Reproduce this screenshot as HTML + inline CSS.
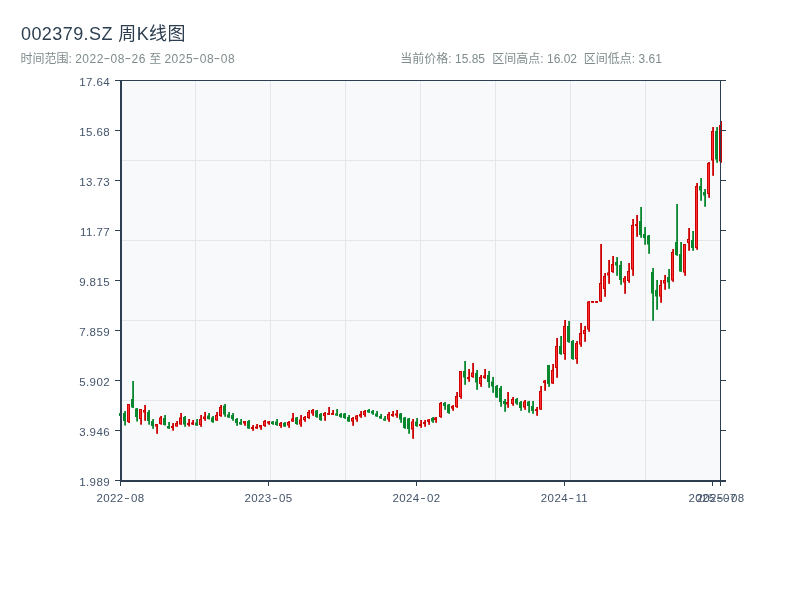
<!DOCTYPE html>
<html lang="zh"><head><meta charset="utf-8"><title>002379.SZ 周K线图</title>
<style>
html,body{margin:0;padding:0;background:#fff;}
body{width:800px;height:600px;position:relative;overflow:hidden;font-family:"Liberation Sans","Noto Sans CJK SC",sans-serif;}
.t{position:absolute;left:21px;top:22px;font-size:18px;line-height:24px;color:#2c3e50;white-space:nowrap;letter-spacing:0.42px;}
.s{position:absolute;top:51px;font-size:12px;line-height:16px;color:#7f8c8d;white-space:nowrap;}
.d{letter-spacing:0.48px;}
.h{display:inline-block;transform:translateY(-1px) scaleX(1.7);margin:0 1.5px 0 1.2px;letter-spacing:0;}
svg{position:absolute;left:0;top:0;}
.al{font-family:"Liberation Sans",sans-serif;font-size:11.5px;fill:#44546a;letter-spacing:0.4px;}
</style></head><body>
<div class="t">002379.SZ 周K线图</div>
<div class="s" style="left:20.5px">时间范围: <span class="d">2022<span class="h">-</span>08<span class="h">-</span>26</span> 至 <span class="d">2025<span class="h">-</span>08<span class="h">-</span>08</span></div>
<div class="s" style="left:400.3px">当前价格: 15.85</div>
<div class="s" style="left:492.3px">区间高点: 16.02</div>
<div class="s" style="left:583.8px">区间低点: 3.61</div>
<svg width="800" height="600" viewBox="0 0 800 600">
<rect x="120" y="80" width="601" height="401" fill="#f8f9fb"/>
<rect x="195" y="81" width="1" height="399" fill="#e3e6ea"/>
<rect x="270" y="81" width="1" height="399" fill="#e3e6ea"/>
<rect x="345" y="81" width="1" height="399" fill="#e3e6ea"/>
<rect x="420" y="81" width="1" height="399" fill="#e3e6ea"/>
<rect x="495" y="81" width="1" height="399" fill="#e3e6ea"/>
<rect x="570" y="81" width="1" height="399" fill="#e3e6ea"/>
<rect x="645" y="81" width="1" height="399" fill="#e3e6ea"/>
<rect x="122" y="160" width="598" height="1" fill="#e3e6ea"/>
<rect x="122" y="240" width="598" height="1" fill="#e3e6ea"/>
<rect x="122" y="320" width="598" height="1" fill="#e3e6ea"/>
<rect x="122" y="400" width="598" height="1" fill="#e3e6ea"/>
<rect x="120.2" y="413.0" width="1.8" height="3.0" fill="#08872e"/>
<rect x="119.0" y="413.0" width="3" height="3.0" fill="#08872e"/>
<rect x="124.2" y="411.0" width="1.8" height="14.5" fill="#08872e"/>
<rect x="123.0" y="413.0" width="3" height="8.0" fill="#08872e"/>
<rect x="128.2" y="404.0" width="1.8" height="19.0" fill="#cc0000"/>
<rect x="127.0" y="404.0" width="3" height="18.0" fill="#cc0000"/>
<rect x="128.0" y="405.0" width="1" height="16.0" fill="#ff3333"/>
<rect x="132.2" y="381.0" width="1.8" height="27.0" fill="#08872e"/>
<rect x="131.0" y="399.0" width="3" height="8.5" fill="#08872e"/>
<rect x="136.2" y="408.0" width="1.8" height="13.5" fill="#08872e"/>
<rect x="135.0" y="408.5" width="3" height="8.5" fill="#08872e"/>
<rect x="140.2" y="409.0" width="1.8" height="15.7" fill="#cc0000"/>
<rect x="139.0" y="409.0" width="3" height="10.0" fill="#cc0000"/>
<rect x="140.0" y="410.0" width="1" height="8.0" fill="#ff3333"/>
<rect x="144.2" y="405.0" width="1.8" height="15.8" fill="#cc0000"/>
<rect x="143.0" y="410.0" width="3" height="2.5" fill="#cc0000"/>
<rect x="144.0" y="411.0" width="1" height="0.5" fill="#ff3333"/>
<rect x="148.2" y="410.0" width="1.8" height="14.7" fill="#08872e"/>
<rect x="147.0" y="412.0" width="3" height="9.0" fill="#08872e"/>
<rect x="152.2" y="419.0" width="1.8" height="9.8" fill="#08872e"/>
<rect x="151.0" y="421.0" width="3" height="5.0" fill="#08872e"/>
<rect x="156.2" y="424.0" width="1.8" height="9.8" fill="#cc0000"/>
<rect x="155.0" y="424.0" width="3" height="2.5" fill="#cc0000"/>
<rect x="156.0" y="425.0" width="1" height="0.5" fill="#ff3333"/>
<rect x="160.2" y="416.0" width="1.8" height="8.7" fill="#cc0000"/>
<rect x="159.0" y="417.5" width="3" height="6.5" fill="#cc0000"/>
<rect x="160.0" y="418.5" width="1" height="4.5" fill="#ff3333"/>
<rect x="164.2" y="415.0" width="1.8" height="10.5" fill="#08872e"/>
<rect x="163.0" y="418.0" width="3" height="7.0" fill="#08872e"/>
<rect x="168.2" y="422.0" width="1.8" height="6.8" fill="#08872e"/>
<rect x="167.0" y="426.0" width="3" height="2.5" fill="#08872e"/>
<rect x="172.2" y="423.0" width="1.8" height="7.7" fill="#cc0000"/>
<rect x="171.0" y="426.0" width="3" height="2.0" fill="#cc0000"/>
<rect x="176.2" y="421.0" width="1.8" height="5.5" fill="#cc0000"/>
<rect x="175.0" y="423.0" width="3" height="3.5" fill="#cc0000"/>
<rect x="176.0" y="424.0" width="1" height="1.5" fill="#ff3333"/>
<rect x="180.2" y="413.0" width="1.8" height="11.7" fill="#cc0000"/>
<rect x="179.0" y="417.5" width="3" height="7.0" fill="#cc0000"/>
<rect x="180.0" y="418.5" width="1" height="5.0" fill="#ff3333"/>
<rect x="184.2" y="416.0" width="1.8" height="10.8" fill="#08872e"/>
<rect x="183.0" y="417.0" width="3" height="7.5" fill="#08872e"/>
<rect x="188.2" y="419.0" width="1.8" height="7.5" fill="#cc0000"/>
<rect x="187.0" y="423.0" width="3" height="2.0" fill="#cc0000"/>
<rect x="192.2" y="420.0" width="1.8" height="5.0" fill="#cc0000"/>
<rect x="191.0" y="422.5" width="3" height="2.0" fill="#cc0000"/>
<rect x="196.2" y="419.0" width="1.8" height="6.8" fill="#08872e"/>
<rect x="195.0" y="422.5" width="3" height="3.0" fill="#08872e"/>
<rect x="200.2" y="415.0" width="1.8" height="11.8" fill="#cc0000"/>
<rect x="199.0" y="419.0" width="3" height="6.0" fill="#cc0000"/>
<rect x="200.0" y="420.0" width="1" height="4.0" fill="#ff3333"/>
<rect x="204.2" y="412.0" width="1.8" height="8.8" fill="#cc0000"/>
<rect x="203.0" y="416.5" width="3" height="2.5" fill="#cc0000"/>
<rect x="204.0" y="417.5" width="1" height="0.5" fill="#ff3333"/>
<rect x="208.2" y="413.0" width="1.8" height="6.5" fill="#08872e"/>
<rect x="207.0" y="415.5" width="3" height="3.5" fill="#08872e"/>
<rect x="212.2" y="416.0" width="1.8" height="6.8" fill="#08872e"/>
<rect x="211.0" y="417.5" width="3" height="4.5" fill="#08872e"/>
<rect x="216.2" y="412.0" width="1.8" height="8.8" fill="#cc0000"/>
<rect x="215.0" y="415.0" width="3" height="5.5" fill="#cc0000"/>
<rect x="216.0" y="416.0" width="1" height="3.5" fill="#ff3333"/>
<rect x="220.2" y="405.0" width="1.8" height="11.8" fill="#cc0000"/>
<rect x="219.0" y="407.0" width="3" height="9.0" fill="#cc0000"/>
<rect x="220.0" y="408.0" width="1" height="7.0" fill="#ff3333"/>
<rect x="224.2" y="404.0" width="1.8" height="12.8" fill="#08872e"/>
<rect x="223.0" y="405.5" width="3" height="9.0" fill="#08872e"/>
<rect x="228.2" y="412.0" width="1.8" height="5.8" fill="#08872e"/>
<rect x="227.0" y="414.5" width="3" height="3.0" fill="#08872e"/>
<rect x="232.2" y="413.0" width="1.8" height="7.8" fill="#08872e"/>
<rect x="231.0" y="415.0" width="3" height="4.0" fill="#08872e"/>
<rect x="236.2" y="418.0" width="1.8" height="7.8" fill="#08872e"/>
<rect x="235.0" y="419.0" width="3" height="4.0" fill="#08872e"/>
<rect x="240.2" y="419.0" width="1.8" height="5.8" fill="#08872e"/>
<rect x="239.0" y="422.0" width="3" height="2.5" fill="#08872e"/>
<rect x="244.2" y="421.0" width="1.8" height="4.8" fill="#cc0000"/>
<rect x="243.0" y="421.0" width="3" height="2.5" fill="#cc0000"/>
<rect x="244.0" y="422.0" width="1" height="0.5" fill="#ff3333"/>
<rect x="248.2" y="420.0" width="1.8" height="8.8" fill="#08872e"/>
<rect x="247.0" y="421.0" width="3" height="7.5" fill="#08872e"/>
<rect x="252.2" y="425.0" width="1.8" height="5.8" fill="#cc0000"/>
<rect x="251.0" y="427.0" width="3" height="2.0" fill="#cc0000"/>
<rect x="256.2" y="424.0" width="1.8" height="4.8" fill="#cc0000"/>
<rect x="255.0" y="426.5" width="3" height="2.0" fill="#cc0000"/>
<rect x="260.2" y="425.0" width="1.8" height="4.8" fill="#cc0000"/>
<rect x="259.0" y="425.0" width="3" height="2.5" fill="#cc0000"/>
<rect x="260.0" y="426.0" width="1" height="0.5" fill="#ff3333"/>
<rect x="264.2" y="420.0" width="1.8" height="6.8" fill="#cc0000"/>
<rect x="263.0" y="421.0" width="3" height="5.0" fill="#cc0000"/>
<rect x="264.0" y="422.0" width="1" height="3.0" fill="#ff3333"/>
<rect x="268.2" y="421.0" width="1.8" height="3.8" fill="#cc0000"/>
<rect x="267.0" y="421.5" width="3" height="2.0" fill="#cc0000"/>
<rect x="272.2" y="421.0" width="1.8" height="3.8" fill="#08872e"/>
<rect x="271.0" y="421.5" width="3" height="2.5" fill="#08872e"/>
<rect x="276.2" y="419.0" width="1.8" height="6.8" fill="#08872e"/>
<rect x="275.0" y="421.5" width="3" height="3.5" fill="#08872e"/>
<rect x="280.2" y="422.0" width="1.8" height="5.8" fill="#cc0000"/>
<rect x="279.0" y="423.0" width="3" height="3.0" fill="#cc0000"/>
<rect x="280.0" y="424.0" width="1" height="1.0" fill="#ff3333"/>
<rect x="284.2" y="422.0" width="1.8" height="4.8" fill="#08872e"/>
<rect x="283.0" y="423.0" width="3" height="3.5" fill="#08872e"/>
<rect x="288.2" y="421.0" width="1.8" height="6.8" fill="#cc0000"/>
<rect x="287.0" y="422.0" width="3" height="3.5" fill="#cc0000"/>
<rect x="288.0" y="423.0" width="1" height="1.5" fill="#ff3333"/>
<rect x="292.2" y="413.0" width="1.8" height="8.8" fill="#cc0000"/>
<rect x="291.0" y="418.5" width="3" height="3.0" fill="#cc0000"/>
<rect x="292.0" y="419.5" width="1" height="1.0" fill="#ff3333"/>
<rect x="296.2" y="417.0" width="1.8" height="7.8" fill="#08872e"/>
<rect x="295.0" y="417.5" width="3" height="6.5" fill="#08872e"/>
<rect x="300.2" y="415.0" width="1.8" height="11.8" fill="#cc0000"/>
<rect x="299.0" y="419.5" width="3" height="5.0" fill="#cc0000"/>
<rect x="300.0" y="420.5" width="1" height="3.0" fill="#ff3333"/>
<rect x="304.2" y="416.0" width="1.8" height="5.8" fill="#cc0000"/>
<rect x="303.0" y="417.0" width="3" height="3.0" fill="#cc0000"/>
<rect x="304.0" y="418.0" width="1" height="1.0" fill="#ff3333"/>
<rect x="308.2" y="410.0" width="1.8" height="8.8" fill="#cc0000"/>
<rect x="307.0" y="412.0" width="3" height="6.0" fill="#cc0000"/>
<rect x="308.0" y="413.0" width="1" height="4.0" fill="#ff3333"/>
<rect x="312.2" y="409.0" width="1.8" height="6.8" fill="#cc0000"/>
<rect x="311.0" y="410.0" width="3" height="3.5" fill="#cc0000"/>
<rect x="312.0" y="411.0" width="1" height="1.5" fill="#ff3333"/>
<rect x="316.2" y="410.0" width="1.8" height="7.8" fill="#08872e"/>
<rect x="315.0" y="410.5" width="3" height="6.5" fill="#08872e"/>
<rect x="320.2" y="413.0" width="1.8" height="7.8" fill="#08872e"/>
<rect x="319.0" y="414.0" width="3" height="6.0" fill="#08872e"/>
<rect x="324.2" y="412.0" width="1.8" height="8.8" fill="#cc0000"/>
<rect x="323.0" y="413.0" width="3" height="3.0" fill="#cc0000"/>
<rect x="324.0" y="414.0" width="1" height="1.0" fill="#ff3333"/>
<rect x="328.2" y="407.0" width="1.8" height="7.8" fill="#cc0000"/>
<rect x="327.0" y="413.0" width="3" height="1.8" fill="#cc0000"/>
<rect x="332.2" y="410.0" width="1.8" height="4.8" fill="#cc0000"/>
<rect x="331.0" y="413.0" width="3" height="1.8" fill="#cc0000"/>
<rect x="336.2" y="409.0" width="1.8" height="6.8" fill="#08872e"/>
<rect x="335.0" y="413.5" width="3" height="2.0" fill="#08872e"/>
<rect x="340.2" y="413.0" width="1.8" height="4.8" fill="#08872e"/>
<rect x="339.0" y="414.0" width="3" height="3.0" fill="#08872e"/>
<rect x="344.2" y="413.0" width="1.8" height="5.8" fill="#08872e"/>
<rect x="343.0" y="413.5" width="3" height="4.5" fill="#08872e"/>
<rect x="348.2" y="415.0" width="1.8" height="6.8" fill="#08872e"/>
<rect x="347.0" y="417.0" width="3" height="4.5" fill="#08872e"/>
<rect x="352.2" y="417.0" width="1.8" height="8.8" fill="#cc0000"/>
<rect x="351.0" y="418.0" width="3" height="3.5" fill="#cc0000"/>
<rect x="352.0" y="419.0" width="1" height="1.5" fill="#ff3333"/>
<rect x="356.2" y="415.0" width="1.8" height="6.8" fill="#cc0000"/>
<rect x="355.0" y="415.5" width="3" height="4.0" fill="#cc0000"/>
<rect x="356.0" y="416.5" width="1" height="2.0" fill="#ff3333"/>
<rect x="360.2" y="411.0" width="1.8" height="6.8" fill="#cc0000"/>
<rect x="359.0" y="414.0" width="3" height="2.5" fill="#cc0000"/>
<rect x="360.0" y="415.0" width="1" height="0.5" fill="#ff3333"/>
<rect x="364.2" y="410.0" width="1.8" height="6.8" fill="#cc0000"/>
<rect x="363.0" y="411.0" width="3" height="4.0" fill="#cc0000"/>
<rect x="364.0" y="412.0" width="1" height="2.0" fill="#ff3333"/>
<rect x="368.2" y="409.0" width="1.8" height="3.8" fill="#08872e"/>
<rect x="367.0" y="410.0" width="3" height="2.5" fill="#08872e"/>
<rect x="372.2" y="410.0" width="1.8" height="4.8" fill="#08872e"/>
<rect x="371.0" y="411.0" width="3" height="2.5" fill="#08872e"/>
<rect x="376.2" y="411.0" width="1.8" height="5.8" fill="#08872e"/>
<rect x="375.0" y="413.5" width="3" height="3.0" fill="#08872e"/>
<rect x="380.2" y="414.0" width="1.8" height="4.8" fill="#08872e"/>
<rect x="379.0" y="416.0" width="3" height="2.5" fill="#08872e"/>
<rect x="384.2" y="416.0" width="1.8" height="4.8" fill="#08872e"/>
<rect x="383.0" y="418.5" width="3" height="2.0" fill="#08872e"/>
<rect x="388.2" y="412.0" width="1.8" height="9.8" fill="#cc0000"/>
<rect x="387.0" y="414.0" width="3" height="5.5" fill="#cc0000"/>
<rect x="388.0" y="415.0" width="1" height="3.5" fill="#ff3333"/>
<rect x="392.2" y="411.0" width="1.8" height="5.8" fill="#cc0000"/>
<rect x="391.0" y="414.0" width="3" height="2.0" fill="#cc0000"/>
<rect x="396.2" y="410.0" width="1.8" height="7.8" fill="#cc0000"/>
<rect x="395.0" y="413.5" width="3" height="2.0" fill="#cc0000"/>
<rect x="400.2" y="413.0" width="1.8" height="9.8" fill="#08872e"/>
<rect x="399.0" y="413.5" width="3" height="6.0" fill="#08872e"/>
<rect x="404.2" y="417.0" width="1.8" height="11.8" fill="#08872e"/>
<rect x="403.0" y="417.5" width="3" height="10.5" fill="#08872e"/>
<rect x="408.2" y="418.0" width="1.8" height="15.8" fill="#08872e"/>
<rect x="407.0" y="418.5" width="3" height="10.5" fill="#08872e"/>
<rect x="412.2" y="419.0" width="1.8" height="19.8" fill="#cc0000"/>
<rect x="411.0" y="421.5" width="3" height="8.0" fill="#cc0000"/>
<rect x="412.0" y="422.5" width="1" height="6.0" fill="#ff3333"/>
<rect x="416.2" y="418.0" width="1.8" height="8.8" fill="#08872e"/>
<rect x="415.0" y="421.5" width="3" height="4.5" fill="#08872e"/>
<rect x="420.2" y="420.0" width="1.8" height="7.8" fill="#cc0000"/>
<rect x="419.0" y="424.0" width="3" height="2.0" fill="#cc0000"/>
<rect x="424.2" y="420.0" width="1.8" height="6.8" fill="#cc0000"/>
<rect x="423.0" y="422.0" width="3" height="2.0" fill="#cc0000"/>
<rect x="428.2" y="419.0" width="1.8" height="5.8" fill="#cc0000"/>
<rect x="427.0" y="419.5" width="3" height="2.5" fill="#cc0000"/>
<rect x="428.0" y="420.5" width="1" height="0.5" fill="#ff3333"/>
<rect x="432.2" y="417.0" width="1.8" height="5.8" fill="#08872e"/>
<rect x="431.0" y="418.0" width="3" height="3.5" fill="#08872e"/>
<rect x="435.2" y="417.0" width="1.8" height="5.8" fill="#cc0000"/>
<rect x="434.0" y="417.5" width="3" height="2.5" fill="#cc0000"/>
<rect x="435.0" y="418.5" width="1" height="0.5" fill="#ff3333"/>
<rect x="440.2" y="402.0" width="1.8" height="15.8" fill="#cc0000"/>
<rect x="439.0" y="403.0" width="3" height="14.0" fill="#cc0000"/>
<rect x="440.0" y="404.0" width="1" height="12.0" fill="#ff3333"/>
<rect x="444.2" y="402.0" width="1.8" height="7.8" fill="#08872e"/>
<rect x="443.0" y="403.0" width="3" height="3.0" fill="#08872e"/>
<rect x="448.2" y="404.0" width="1.8" height="9.8" fill="#08872e"/>
<rect x="447.0" y="404.5" width="3" height="8.5" fill="#08872e"/>
<rect x="452.2" y="405.0" width="1.8" height="5.8" fill="#cc0000"/>
<rect x="451.0" y="406.0" width="3" height="2.5" fill="#cc0000"/>
<rect x="452.0" y="407.0" width="1" height="0.5" fill="#ff3333"/>
<rect x="456.2" y="392.0" width="1.8" height="15.8" fill="#cc0000"/>
<rect x="455.0" y="396.0" width="3" height="11.0" fill="#cc0000"/>
<rect x="456.0" y="397.0" width="1" height="9.0" fill="#ff3333"/>
<rect x="460.2" y="371.0" width="1.8" height="27.8" fill="#cc0000"/>
<rect x="459.0" y="371.0" width="3" height="26.0" fill="#cc0000"/>
<rect x="460.0" y="372.0" width="1" height="24.0" fill="#ff3333"/>
<rect x="464.2" y="361.0" width="1.8" height="23.8" fill="#08872e"/>
<rect x="463.0" y="371.0" width="3" height="6.5" fill="#08872e"/>
<rect x="468.2" y="369.0" width="1.8" height="12.8" fill="#cc0000"/>
<rect x="467.0" y="377.0" width="3" height="2.0" fill="#cc0000"/>
<rect x="472.2" y="363.0" width="1.8" height="14.8" fill="#cc0000"/>
<rect x="471.0" y="372.5" width="3" height="4.5" fill="#cc0000"/>
<rect x="472.0" y="373.5" width="1" height="2.5" fill="#ff3333"/>
<rect x="476.2" y="370.0" width="1.8" height="19.8" fill="#08872e"/>
<rect x="475.0" y="373.0" width="3" height="9.5" fill="#08872e"/>
<rect x="480.2" y="375.0" width="1.8" height="11.8" fill="#cc0000"/>
<rect x="479.0" y="377.0" width="3" height="7.0" fill="#cc0000"/>
<rect x="480.0" y="378.0" width="1" height="5.0" fill="#ff3333"/>
<rect x="484.2" y="369.0" width="1.8" height="9.8" fill="#cc0000"/>
<rect x="483.0" y="375.5" width="3" height="2.5" fill="#cc0000"/>
<rect x="484.0" y="376.5" width="1" height="0.5" fill="#ff3333"/>
<rect x="488.2" y="371.0" width="1.8" height="16.8" fill="#08872e"/>
<rect x="487.0" y="375.0" width="3" height="7.0" fill="#08872e"/>
<rect x="492.2" y="377.0" width="1.8" height="15.8" fill="#08872e"/>
<rect x="491.0" y="381.5" width="3" height="5.0" fill="#08872e"/>
<rect x="496.2" y="385.0" width="1.8" height="12.8" fill="#08872e"/>
<rect x="495.0" y="386.0" width="3" height="11.5" fill="#08872e"/>
<rect x="500.2" y="386.0" width="1.8" height="20.8" fill="#08872e"/>
<rect x="499.0" y="388.0" width="3" height="14.0" fill="#08872e"/>
<rect x="504.2" y="399.0" width="1.8" height="12.8" fill="#08872e"/>
<rect x="503.0" y="401.0" width="3" height="3.0" fill="#08872e"/>
<rect x="507.2" y="392.0" width="1.8" height="15.8" fill="#cc0000"/>
<rect x="506.0" y="402.0" width="3" height="2.5" fill="#cc0000"/>
<rect x="507.0" y="403.0" width="1" height="0.5" fill="#ff3333"/>
<rect x="512.2" y="397.0" width="1.8" height="8.8" fill="#cc0000"/>
<rect x="511.0" y="399.0" width="3" height="5.0" fill="#cc0000"/>
<rect x="512.0" y="400.0" width="1" height="3.0" fill="#ff3333"/>
<rect x="516.2" y="398.0" width="1.8" height="6.8" fill="#08872e"/>
<rect x="515.0" y="399.0" width="3" height="4.5" fill="#08872e"/>
<rect x="520.2" y="401.0" width="1.8" height="9.8" fill="#08872e"/>
<rect x="519.0" y="402.0" width="3" height="6.0" fill="#08872e"/>
<rect x="524.2" y="400.0" width="1.8" height="9.8" fill="#cc0000"/>
<rect x="523.0" y="401.5" width="3" height="6.0" fill="#cc0000"/>
<rect x="524.0" y="402.5" width="1" height="4.0" fill="#ff3333"/>
<rect x="528.2" y="401.0" width="1.8" height="11.8" fill="#08872e"/>
<rect x="527.0" y="401.5" width="3" height="4.5" fill="#08872e"/>
<rect x="532.2" y="401.0" width="1.8" height="12.8" fill="#08872e"/>
<rect x="531.0" y="406.0" width="3" height="5.0" fill="#08872e"/>
<rect x="536.2" y="407.0" width="1.8" height="8.8" fill="#cc0000"/>
<rect x="535.0" y="409.0" width="3" height="2.0" fill="#cc0000"/>
<rect x="540.2" y="386.0" width="1.8" height="23.8" fill="#cc0000"/>
<rect x="539.0" y="391.0" width="3" height="18.5" fill="#cc0000"/>
<rect x="540.0" y="392.0" width="1" height="16.5" fill="#ff3333"/>
<rect x="544.2" y="380.0" width="1.8" height="10.8" fill="#cc0000"/>
<rect x="543.0" y="380.5" width="3" height="2.5" fill="#cc0000"/>
<rect x="544.0" y="381.5" width="1" height="0.5" fill="#ff3333"/>
<rect x="548.2" y="365.0" width="1.8" height="21.8" fill="#08872e"/>
<rect x="547.0" y="365.0" width="3" height="19.0" fill="#08872e"/>
<rect x="552.2" y="364.0" width="1.8" height="19.8" fill="#cc0000"/>
<rect x="551.0" y="370.0" width="3" height="13.5" fill="#cc0000"/>
<rect x="552.0" y="371.0" width="1" height="11.5" fill="#ff3333"/>
<rect x="556.2" y="338.0" width="1.8" height="39.8" fill="#cc0000"/>
<rect x="555.0" y="346.0" width="3" height="22.0" fill="#cc0000"/>
<rect x="556.0" y="347.0" width="1" height="20.0" fill="#ff3333"/>
<rect x="560.2" y="336.0" width="1.8" height="18.8" fill="#08872e"/>
<rect x="559.0" y="346.0" width="3" height="8.0" fill="#08872e"/>
<rect x="564.2" y="320.0" width="1.8" height="39.8" fill="#cc0000"/>
<rect x="563.0" y="326.0" width="3" height="28.0" fill="#cc0000"/>
<rect x="564.0" y="327.0" width="1" height="26.0" fill="#ff3333"/>
<rect x="568.2" y="321.0" width="1.8" height="21.8" fill="#08872e"/>
<rect x="567.0" y="326.0" width="3" height="16.0" fill="#08872e"/>
<rect x="572.2" y="340.0" width="1.8" height="19.8" fill="#08872e"/>
<rect x="571.0" y="341.0" width="3" height="18.0" fill="#08872e"/>
<rect x="576.2" y="341.0" width="1.8" height="22.8" fill="#cc0000"/>
<rect x="575.0" y="343.0" width="3" height="16.0" fill="#cc0000"/>
<rect x="576.0" y="344.0" width="1" height="14.0" fill="#ff3333"/>
<rect x="580.2" y="323.0" width="1.8" height="23.8" fill="#cc0000"/>
<rect x="579.0" y="333.0" width="3" height="11.5" fill="#cc0000"/>
<rect x="580.0" y="334.0" width="1" height="9.5" fill="#ff3333"/>
<rect x="584.2" y="326.0" width="1.8" height="15.8" fill="#cc0000"/>
<rect x="583.0" y="330.0" width="3" height="4.0" fill="#cc0000"/>
<rect x="584.0" y="331.0" width="1" height="2.0" fill="#ff3333"/>
<rect x="588.2" y="301.0" width="1.8" height="30.8" fill="#cc0000"/>
<rect x="587.0" y="301.5" width="3" height="28.0" fill="#cc0000"/>
<rect x="588.0" y="302.5" width="1" height="26.0" fill="#ff3333"/>
<rect x="592.2" y="301.0" width="1.8" height="1.8" fill="#cc0000"/>
<rect x="591.0" y="301.0" width="3" height="1.8" fill="#cc0000"/>
<rect x="596.2" y="301.0" width="1.8" height="1.8" fill="#cc0000"/>
<rect x="595.0" y="301.0" width="3" height="1.8" fill="#cc0000"/>
<rect x="600.2" y="244.0" width="1.8" height="57.8" fill="#cc0000"/>
<rect x="599.0" y="283.0" width="3" height="18.5" fill="#cc0000"/>
<rect x="600.0" y="284.0" width="1" height="16.5" fill="#ff3333"/>
<rect x="604.2" y="273.0" width="1.8" height="23.8" fill="#cc0000"/>
<rect x="603.0" y="276.0" width="3" height="13.0" fill="#cc0000"/>
<rect x="604.0" y="277.0" width="1" height="11.0" fill="#ff3333"/>
<rect x="608.2" y="260.0" width="1.8" height="23.8" fill="#cc0000"/>
<rect x="607.0" y="272.5" width="3" height="3.0" fill="#cc0000"/>
<rect x="608.0" y="273.5" width="1" height="1.0" fill="#ff3333"/>
<rect x="612.2" y="256.0" width="1.8" height="16.8" fill="#cc0000"/>
<rect x="611.0" y="264.0" width="3" height="8.0" fill="#cc0000"/>
<rect x="612.0" y="265.0" width="1" height="6.0" fill="#ff3333"/>
<rect x="616.2" y="257.0" width="1.8" height="18.8" fill="#08872e"/>
<rect x="615.0" y="262.0" width="3" height="3.5" fill="#08872e"/>
<rect x="620.2" y="261.0" width="1.8" height="23.8" fill="#08872e"/>
<rect x="619.0" y="265.0" width="3" height="15.0" fill="#08872e"/>
<rect x="624.2" y="276.0" width="1.8" height="17.8" fill="#cc0000"/>
<rect x="623.0" y="278.0" width="3" height="4.5" fill="#cc0000"/>
<rect x="624.0" y="279.0" width="1" height="2.5" fill="#ff3333"/>
<rect x="628.2" y="263.0" width="1.8" height="19.8" fill="#cc0000"/>
<rect x="627.0" y="271.0" width="3" height="10.0" fill="#cc0000"/>
<rect x="628.0" y="272.0" width="1" height="8.0" fill="#ff3333"/>
<rect x="632.2" y="219.0" width="1.8" height="56.8" fill="#cc0000"/>
<rect x="631.0" y="225.0" width="3" height="44.5" fill="#cc0000"/>
<rect x="632.0" y="226.0" width="1" height="42.5" fill="#ff3333"/>
<rect x="636.2" y="215.0" width="1.8" height="21.8" fill="#cc0000"/>
<rect x="635.0" y="224.0" width="3" height="2.0" fill="#cc0000"/>
<rect x="640.2" y="207.0" width="1.8" height="30.8" fill="#08872e"/>
<rect x="639.0" y="221.0" width="3" height="14.0" fill="#08872e"/>
<rect x="644.2" y="227.0" width="1.8" height="17.8" fill="#08872e"/>
<rect x="643.0" y="234.0" width="3" height="4.0" fill="#08872e"/>
<rect x="648.2" y="235.0" width="1.8" height="18.8" fill="#08872e"/>
<rect x="647.0" y="235.5" width="3" height="9.0" fill="#08872e"/>
<rect x="652.2" y="268.0" width="1.8" height="52.8" fill="#08872e"/>
<rect x="651.0" y="272.0" width="3" height="21.5" fill="#08872e"/>
<rect x="656.2" y="280.0" width="1.8" height="29.8" fill="#08872e"/>
<rect x="655.0" y="290.0" width="3" height="6.5" fill="#08872e"/>
<rect x="660.2" y="280.0" width="1.8" height="22.8" fill="#cc0000"/>
<rect x="659.0" y="285.0" width="3" height="11.5" fill="#cc0000"/>
<rect x="660.0" y="286.0" width="1" height="9.5" fill="#ff3333"/>
<rect x="664.2" y="275.0" width="1.8" height="14.8" fill="#cc0000"/>
<rect x="663.0" y="280.0" width="3" height="3.5" fill="#cc0000"/>
<rect x="664.0" y="281.0" width="1" height="1.5" fill="#ff3333"/>
<rect x="668.2" y="269.0" width="1.8" height="19.8" fill="#08872e"/>
<rect x="667.0" y="277.0" width="3" height="5.5" fill="#08872e"/>
<rect x="672.2" y="249.0" width="1.8" height="32.8" fill="#cc0000"/>
<rect x="671.0" y="252.0" width="3" height="28.5" fill="#cc0000"/>
<rect x="672.0" y="253.0" width="1" height="26.5" fill="#ff3333"/>
<rect x="676.2" y="204.0" width="1.8" height="51.8" fill="#08872e"/>
<rect x="675.0" y="242.0" width="3" height="13.0" fill="#08872e"/>
<rect x="680.2" y="242.0" width="1.8" height="29.8" fill="#08872e"/>
<rect x="679.0" y="254.0" width="3" height="17.5" fill="#08872e"/>
<rect x="684.2" y="244.0" width="1.8" height="31.8" fill="#cc0000"/>
<rect x="683.0" y="244.0" width="3" height="28.5" fill="#cc0000"/>
<rect x="684.0" y="245.0" width="1" height="26.5" fill="#ff3333"/>
<rect x="688.2" y="228.0" width="1.8" height="22.8" fill="#cc0000"/>
<rect x="687.0" y="239.0" width="3" height="4.0" fill="#cc0000"/>
<rect x="688.0" y="240.0" width="1" height="2.0" fill="#ff3333"/>
<rect x="692.2" y="231.0" width="1.8" height="19.8" fill="#08872e"/>
<rect x="691.0" y="240.0" width="3" height="8.0" fill="#08872e"/>
<rect x="696.2" y="183.0" width="1.8" height="66.8" fill="#cc0000"/>
<rect x="695.0" y="186.0" width="3" height="62.0" fill="#cc0000"/>
<rect x="696.0" y="187.0" width="1" height="60.0" fill="#ff3333"/>
<rect x="700.2" y="178.0" width="1.8" height="22.8" fill="#08872e"/>
<rect x="699.0" y="186.0" width="3" height="4.5" fill="#08872e"/>
<rect x="704.2" y="189.0" width="1.8" height="17.8" fill="#08872e"/>
<rect x="703.0" y="192.0" width="3" height="3.5" fill="#08872e"/>
<rect x="708.2" y="162.0" width="1.8" height="35.8" fill="#cc0000"/>
<rect x="707.0" y="163.0" width="3" height="31.0" fill="#cc0000"/>
<rect x="708.0" y="164.0" width="1" height="29.0" fill="#ff3333"/>
<rect x="712.2" y="127.0" width="1.8" height="48.8" fill="#cc0000"/>
<rect x="711.0" y="131.0" width="3" height="29.5" fill="#cc0000"/>
<rect x="712.0" y="132.0" width="1" height="27.5" fill="#ff3333"/>
<rect x="716.2" y="127.0" width="1.8" height="35.8" fill="#08872e"/>
<rect x="715.0" y="131.0" width="3" height="28.5" fill="#08872e"/>
<rect x="720.2" y="121.0" width="1.8" height="41.8" fill="#cc0000"/>
<rect x="719.0" y="125.0" width="3" height="36.5" fill="#cc0000"/>
<rect x="720.0" y="126.0" width="1" height="34.5" fill="#ff3333"/>
<rect x="120" y="80" width="606" height="1" fill="#2c3e50"/>
<rect x="720" y="80" width="1" height="402" fill="#2c3e50"/>
<rect x="120" y="80" width="2" height="402" fill="#2c3e50"/>
<rect x="120" y="480" width="606" height="2" fill="#2c3e50"/>
<rect x="115" y="80" width="5" height="1" fill="#2c3e50"/>
<rect x="721" y="80" width="5" height="1" fill="#2c3e50"/>
<text x="110.0" y="85.5" text-anchor="end" class="al">17.64</text>
<rect x="115" y="130" width="5" height="1" fill="#2c3e50"/>
<rect x="721" y="130" width="5" height="1" fill="#2c3e50"/>
<text x="110.0" y="135.5" text-anchor="end" class="al">15.68</text>
<rect x="115" y="180" width="5" height="1" fill="#2c3e50"/>
<rect x="721" y="180" width="5" height="1" fill="#2c3e50"/>
<text x="110.0" y="185.5" text-anchor="end" class="al">13.73</text>
<rect x="115" y="230" width="5" height="1" fill="#2c3e50"/>
<rect x="721" y="230" width="5" height="1" fill="#2c3e50"/>
<text x="110.0" y="235.5" text-anchor="end" class="al">11.77</text>
<rect x="115" y="280" width="5" height="1" fill="#2c3e50"/>
<rect x="721" y="280" width="5" height="1" fill="#2c3e50"/>
<text x="110.0" y="285.5" text-anchor="end" class="al">9.815</text>
<rect x="115" y="330" width="5" height="1" fill="#2c3e50"/>
<rect x="721" y="330" width="5" height="1" fill="#2c3e50"/>
<text x="110.0" y="335.5" text-anchor="end" class="al">7.859</text>
<rect x="115" y="380" width="5" height="1" fill="#2c3e50"/>
<rect x="721" y="380" width="5" height="1" fill="#2c3e50"/>
<text x="110.0" y="385.5" text-anchor="end" class="al">5.902</text>
<rect x="115" y="430" width="5" height="1" fill="#2c3e50"/>
<rect x="721" y="430" width="5" height="1" fill="#2c3e50"/>
<text x="110.0" y="435.5" text-anchor="end" class="al">3.946</text>
<rect x="115" y="480" width="5" height="1" fill="#2c3e50"/>
<rect x="721" y="480" width="5" height="1" fill="#2c3e50"/>
<text x="110.0" y="485.5" text-anchor="end" class="al">1.989</text>
<rect x="120" y="482" width="1" height="4" fill="#2c3e50"/>
<text x="120.5" y="502" text-anchor="middle" class="al">2022<tspan dx="0.6" dy="-1.2" textLength="6.2" lengthAdjust="spacingAndGlyphs">-</tspan><tspan dx="0.6" dy="1.2">08</tspan></text>
<rect x="268" y="482" width="1" height="4" fill="#2c3e50"/>
<text x="268.5" y="502" text-anchor="middle" class="al">2023<tspan dx="0.6" dy="-1.2" textLength="6.2" lengthAdjust="spacingAndGlyphs">-</tspan><tspan dx="0.6" dy="1.2">05</tspan></text>
<rect x="416" y="482" width="1" height="4" fill="#2c3e50"/>
<text x="416.5" y="502" text-anchor="middle" class="al">2024<tspan dx="0.6" dy="-1.2" textLength="6.2" lengthAdjust="spacingAndGlyphs">-</tspan><tspan dx="0.6" dy="1.2">02</tspan></text>
<rect x="564" y="482" width="1" height="4" fill="#2c3e50"/>
<text x="564.5" y="502" text-anchor="middle" class="al">2024<tspan dx="0.6" dy="-1.2" textLength="6.2" lengthAdjust="spacingAndGlyphs">-</tspan><tspan dx="0.6" dy="1.2">11</tspan></text>
<rect x="712" y="482" width="1" height="4" fill="#2c3e50"/>
<text x="712.5" y="502" text-anchor="middle" class="al">2025<tspan dx="0.6" dy="-1.2" textLength="6.2" lengthAdjust="spacingAndGlyphs">-</tspan><tspan dx="0.6" dy="1.2">07</tspan></text>
<rect x="720" y="482" width="1" height="4" fill="#2c3e50"/>
<text x="720.5" y="502" text-anchor="middle" class="al">2025<tspan dx="0.6" dy="-1.2" textLength="6.2" lengthAdjust="spacingAndGlyphs">-</tspan><tspan dx="0.6" dy="1.2">08</tspan></text>
</svg>
</body></html>
